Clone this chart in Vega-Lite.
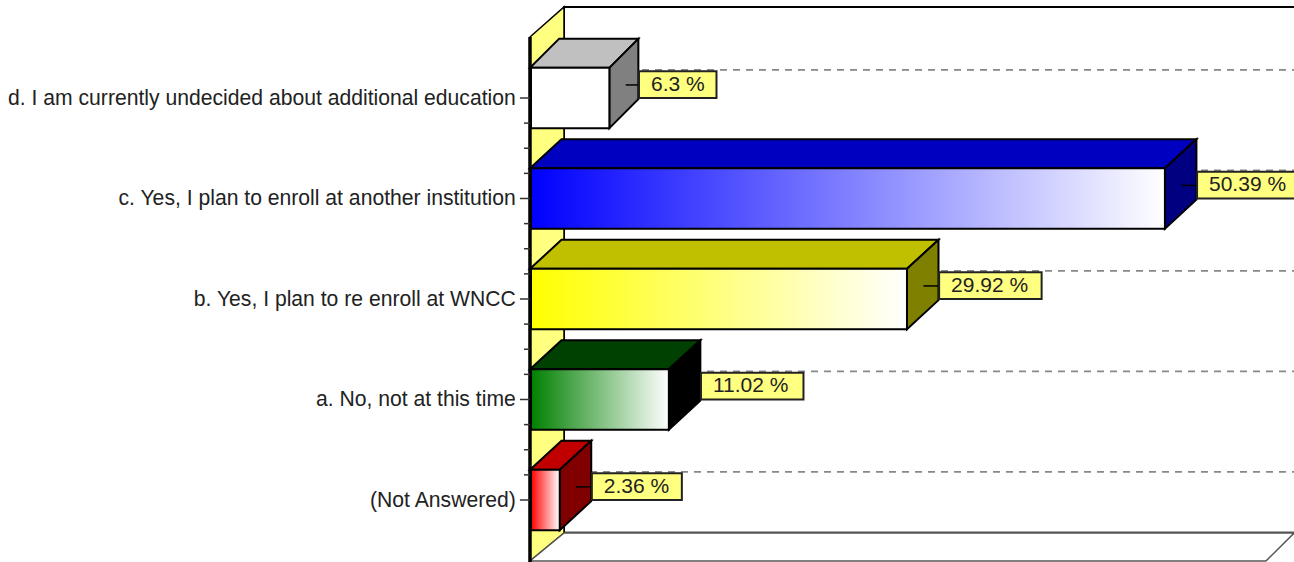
{
"$schema":"https://vega.github.io/schema/vega-lite/v6.json",
"width":1294,"height":562,"padding":0,"autosize":{"type":"none"},
"background":"white","view":{"stroke":null},
"data":{"values":[
{"answer":"d. I am currently undecided about additional education","pct":6.3},
{"answer":"c. Yes, I plan to enroll at another institution","pct":50.39},
{"answer":"b. Yes, I plan to re enroll at WNCC","pct":29.92},
{"answer":"a. No, not at this time","pct":11.02},
{"answer":"(Not Answered)","pct":2.36}
]},
"transform":[{"window":[{"op":"row_number","as":"rank"}]},{"calculate":"datum.pct+' %'","as":"label"},{"calculate":"datum.rank==1?2.3:2.5","as":"depth"}],
"layer":[
{"transform":[{"filter":"datum.rank==1"},{"calculate":"2.7","as":"a"},{"calculate":"62","as":"b"},{"calculate":"0.0945","as":"c"},{"calculate":"5.328","as":"d"}],
 "mark":{"type":"rect","fill":"white","stroke":"black","strokeWidth":2,"clip":true},
 "encoding":{
  "x":{"field":"a","type":"quantitative","scale":{"domain":[-42.063,60.635],"nice":false,"zero":false},"axis":null},
  "x2":{"field":"b"},
  "y":{"field":"c","type":"quantitative","scale":{"domain":[5.617,0.0249],"nice":false,"zero":false},"axis":null},
  "y2":{"field":"d"}}},
{"transform":[{"filter":"datum.rank==1"},{"calculate":"2.7","as":"a"},{"calculate":"62","as":"b"},{"calculate":"5.328","as":"c"}],
 "mark":{"type":"rule","stroke":"#555","strokeWidth":3,"clip":true},
 "encoding":{"x":{"field":"a","type":"quantitative","axis":null},"x2":{"field":"b"},"y":{"field":"c","type":"quantitative","axis":null}}},
{"data":{"values":[{"t":0},{"t":1}]},
 "transform":[{"calculate":"datum.t*2.7","as":"wx"},{"calculate":"0.393-datum.t*0.2985","as":"wy"},{"calculate":"5.607-datum.t*0.279","as":"wy2"}],
 "mark":{"type":"area","orient":"vertical","fill":"#ffff80","stroke":"black","strokeWidth":1.5},
 "encoding":{"x":{"field":"wx","type":"quantitative","axis":null},"y":{"field":"wy","type":"quantitative","axis":null},"y2":{"field":"wy2"}}},
{"data":{"values":[{"t":0},{"t":1}]},
 "transform":[{"calculate":"5.607-datum.t*0.279","as":"fy"},{"calculate":"datum.t*2.7","as":"fx"},{"calculate":"58.41+datum.t*2.235","as":"fx2"}],
 "mark":{"type":"area","orient":"horizontal","fill":"white","stroke":"#555","strokeWidth":1.5},
 "encoding":{"y":{"field":"fy","type":"quantitative","axis":null},"x":{"field":"fx","type":"quantitative","axis":null},"x2":{"field":"fx2"}}},
{"transform":[{"calculate":"datum.rank-0.28","as":"dashY"},{"calculate":"2.7","as":"a"},{"calculate":"62","as":"b"}],
 "mark":{"type":"rule","stroke":"#888","strokeWidth":1.8,"strokeDash":[7,6],"clip":true},
 "encoding":{"x":{"field":"a","type":"quantitative","axis":null},"x2":{"field":"b"},"y":{"field":"dashY","type":"quantitative","axis":null}}},
{"transform":[{"filter":"datum.rank==1"},{"calculate":"0","as":"a"},{"calculate":"0.393","as":"c"},{"calculate":"5.617","as":"d"}],
 "mark":{"type":"rule","stroke":"black","strokeWidth":3.5},
 "encoding":{"x":{"field":"a","type":"quantitative","axis":null},"y":{"field":"c","type":"quantitative","axis":null},"y2":{"field":"d"}}},
{"transform":[{"calculate":"[0,0.25,0.5,0.75]","as":"frac"},{"flatten":["frac"]},{"calculate":"datum.rank+datum.frac","as":"tickY"},{"filter":"datum.tickY<=5"},{"calculate":"datum.frac==0?-0.8:-0.48","as":"tick1"},{"calculate":"0","as":"tick2"}],
 "mark":{"type":"rule","stroke":"#333","strokeWidth":1.5},
 "encoding":{"x":{"field":"tick1","type":"quantitative","axis":null},"x2":{"field":"tick2"},"y":{"field":"tickY","type":"quantitative","axis":null}}},
{"transform":[{"calculate":"-1.13","as":"ax"}],
 "mark":{"type":"text","align":"right","baseline":"middle","font":"Liberation Sans","fontSize":21.15,"color":"#222","dy":1},
 "encoding":{"x":{"field":"ax","type":"quantitative","axis":null},"y":{"field":"rank","type":"quantitative","axis":null},"text":{"field":"answer"}}},
{"transform":[{"calculate":"[0,1]","as":"t"},{"flatten":["t"]},{"calculate":"datum.rank-0.3-datum.t*0.2886","as":"ty"},{"calculate":"datum.t*datum.depth","as":"tx"},{"calculate":"datum.pct+datum.t*datum.depth","as":"tx2"},{"calculate":"'t'+datum.rank","as":"face"}],
 "mark":{"type":"area","orient":"horizontal","stroke":"black","strokeWidth":2},
 "encoding":{"y":{"field":"ty","type":"quantitative","axis":null},"x":{"field":"tx","type":"quantitative","axis":null},"x2":{"field":"tx2"},
  "color":{"field":"face","type":"nominal","legend":null,"scale":{"domain":["t1","t2","t3","t4","t5","s1","s2","s3","s4","s5"],"range":["#c0c0c0","#0000c0","#c0c000","#004000","#c00000","#808080","#000080","#808000","#000000","#800000"]}}}},
{"transform":[{"calculate":"[0,1]","as":"t"},{"flatten":["t"]},{"calculate":"datum.pct+datum.t*datum.depth","as":"sx"},{"calculate":"datum.rank-0.3-datum.t*0.2886","as":"sy"},{"calculate":"datum.rank+0.3-datum.t*0.2886","as":"sy2"},{"calculate":"'s'+datum.rank","as":"face"}],
 "mark":{"type":"area","orient":"vertical","stroke":"black","strokeWidth":2},
 "encoding":{"x":{"field":"sx","type":"quantitative","axis":null},"y":{"field":"sy","type":"quantitative","axis":null},"y2":{"field":"sy2"},
  "color":{"field":"face","type":"nominal","legend":null}}},
{"transform":[{"filter":"datum.rank==1"},{"calculate":"datum.rank-0.3","as":"fy"},{"calculate":"datum.rank+0.3","as":"fy2"},{"calculate":"0.08","as":"a"}],
 "mark":{"type":"rect","stroke":"black","strokeWidth":2,"fill":"#ffffff"},
 "encoding":{"x":{"field":"a","type":"quantitative","axis":null},"x2":{"field":"pct"},"y":{"field":"fy","type":"quantitative","axis":null},"y2":{"field":"fy2"}}},
{"transform":[{"filter":"datum.rank==2"},{"calculate":"datum.rank-0.3","as":"fy"},{"calculate":"datum.rank+0.3","as":"fy2"},{"calculate":"0.08","as":"a"}],
 "mark":{"type":"rect","stroke":"black","strokeWidth":2,"fill":{"gradient":"linear","x1":0,"y1":0,"x2":1,"y2":0,"stops":[{"offset":0,"color":"#0000ff"},{"offset":1,"color":"#ffffff"}]}},
 "encoding":{"x":{"field":"a","type":"quantitative","axis":null},"x2":{"field":"pct"},"y":{"field":"fy","type":"quantitative","axis":null},"y2":{"field":"fy2"}}},
{"transform":[{"filter":"datum.rank==3"},{"calculate":"datum.rank-0.3","as":"fy"},{"calculate":"datum.rank+0.3","as":"fy2"},{"calculate":"0.08","as":"a"}],
 "mark":{"type":"rect","stroke":"black","strokeWidth":2,"fill":{"gradient":"linear","x1":0,"y1":0,"x2":1,"y2":0,"stops":[{"offset":0,"color":"#ffff00"},{"offset":1,"color":"#ffffff"}]}},
 "encoding":{"x":{"field":"a","type":"quantitative","axis":null},"x2":{"field":"pct"},"y":{"field":"fy","type":"quantitative","axis":null},"y2":{"field":"fy2"}}},
{"transform":[{"filter":"datum.rank==4"},{"calculate":"datum.rank-0.3","as":"fy"},{"calculate":"datum.rank+0.3","as":"fy2"},{"calculate":"0.08","as":"a"}],
 "mark":{"type":"rect","stroke":"black","strokeWidth":2,"fill":{"gradient":"linear","x1":0,"y1":0,"x2":1,"y2":0,"stops":[{"offset":0,"color":"#008000"},{"offset":1,"color":"#ffffff"}]}},
 "encoding":{"x":{"field":"a","type":"quantitative","axis":null},"x2":{"field":"pct"},"y":{"field":"fy","type":"quantitative","axis":null},"y2":{"field":"fy2"}}},
{"transform":[{"filter":"datum.rank==5"},{"calculate":"datum.rank-0.3","as":"fy"},{"calculate":"datum.rank+0.3","as":"fy2"},{"calculate":"0.08","as":"a"}],
 "mark":{"type":"rect","stroke":"black","strokeWidth":2,"fill":{"gradient":"linear","x1":0,"y1":0,"x2":1,"y2":0,"stops":[{"offset":0,"color":"#ff0000"},{"offset":1,"color":"#ffffff"}]}},
 "encoding":{"x":{"field":"a","type":"quantitative","axis":null},"x2":{"field":"pct"},"y":{"field":"fy","type":"quantitative","axis":null},"y2":{"field":"fy2"}}},
{"transform":[{"calculate":"datum.pct+1.3","as":"cx"},{"calculate":"datum.pct+2.5","as":"cx2"},{"calculate":"datum.rank-0.13","as":"cy"}],
 "mark":{"type":"rule","stroke":"black","strokeWidth":1.5},
 "encoding":{"x":{"field":"cx","type":"quantitative","axis":null},"x2":{"field":"cx2"},"y":{"field":"cy","type":"quantitative","axis":null}}},
{"transform":[{"calculate":"datum.pct+datum.depth+0.05","as":"bx"},{"calculate":"datum.pct+datum.depth+0.05+(length(datum.label)*12.5+15)/12.6","as":"bx2"},{"calculate":"datum.rank-0.265","as":"by"},{"calculate":"datum.rank","as":"by2"}],
 "mark":{"type":"rect","fill":"#ffff80","stroke":"#222","strokeWidth":2,"clip":true},
 "encoding":{"x":{"field":"bx","type":"quantitative","axis":null},"x2":{"field":"bx2"},"y":{"field":"by","type":"quantitative","axis":null},"y2":{"field":"by2"}}},
{"transform":[{"calculate":"datum.pct+datum.depth+1.0","as":"lx"},{"calculate":"datum.rank-0.13","as":"ly"}],
 "mark":{"type":"text","align":"left","baseline":"middle","font":"Liberation Sans","fontSize":21,"color":"#222"},
 "encoding":{"x":{"field":"lx","type":"quantitative","axis":null},"y":{"field":"ly","type":"quantitative","axis":null},"text":{"field":"label"}}}
]
}
